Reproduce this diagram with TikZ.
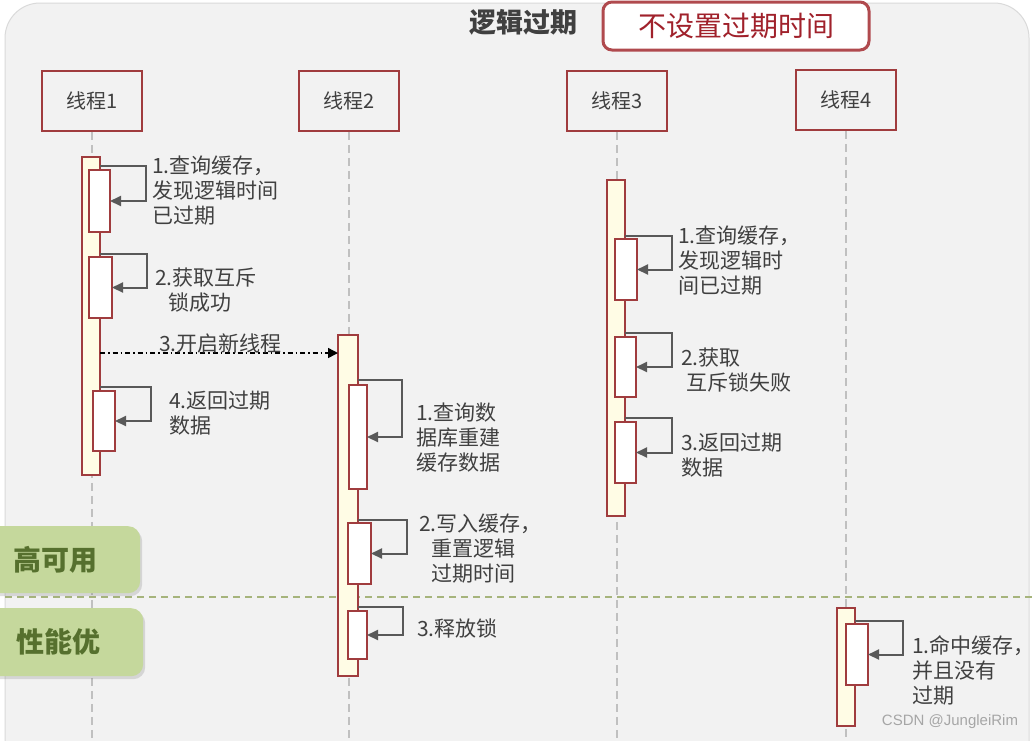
\documentclass[tikz,border=0pt]{standalone}
\usepackage{fontspec}
\setmainfont{Noto Sans CJK SC}
\newfontfamily\wmfont{Liberation Sans}
\usetikzlibrary{arrows.meta,shadows}
\definecolor{bg}{HTML}{F2F2F2}
\definecolor{panelline}{HTML}{DADADA}
\definecolor{dred}{HTML}{A03C3E}
\definecolor{barfill}{HTML}{FFFCE5}
\definecolor{txt}{HTML}{404040}
\definecolor{arr}{HTML}{595959}
\definecolor{tred}{HTML}{B04A4E}
\definecolor{ttxt}{HTML}{A0212B}
\definecolor{tabg}{HTML}{C5D89C}
\definecolor{tabt}{HTML}{56702E}
\definecolor{gdash}{HTML}{A6B47C}
\definecolor{life}{HTML}{C0C0C0}
\definecolor{wm}{HTML}{A6A6A6}
\begin{document}
\begin{tikzpicture}[x=1pt,y=-1pt,
  thr/.style={draw=dred,line width=1.5pt,fill=bg,minimum width=100pt,minimum height=60pt,inner sep=0pt,text=txt,font=\fontsize{20}{24}\selectfont},
  actbar/.style={draw=dred,line width=1.5pt,fill=barfill,anchor=north west,inner sep=0pt,outer sep=0pt,minimum width=18pt},
  inbox/.style={draw=dred,line width=1.5pt,fill=white,anchor=north west,inner sep=0pt,outer sep=0pt},
  selfarr/.style={draw=arr,line width=2pt,-{Triangle[length=11pt,width=10pt]}},
  lbl/.style={anchor=base west,align=left,inner sep=0pt,text=txt,font=\fontsize{21}{25}\selectfont},
  lifeline/.style={draw=life,line width=1.5pt,dash pattern=on 8pt off 5pt},
  tab/.style={fill=tabg,rounded corners=12pt,anchor=north west,minimum width=170pt,inner sep=0pt,text=tabt,font=\bfseries\fontsize{28}{32}\selectfont,drop shadow={shadow xshift=2pt,shadow yshift=-3pt,opacity=0.25}}
]
\useasboundingbox (0,0) rectangle (1033,740);
\fill[white] (0,0) rectangle (1033,740);
% panel
\draw[fill=bg,draw=panelline,line width=1pt,rounded corners=35pt] (5,780) -- (5,3) -- (1029,3) -- (1029,780);
% title
\node[text=txt,font=\bfseries\fontsize{27}{30}\selectfont,inner sep=0pt] (title) at (523,22) {逻辑过期};
\node[draw=tred,line width=3pt,fill=white,rounded corners=9pt,minimum width=266pt,minimum height=48pt,inner sep=0pt,text=ttxt,font=\fontsize{28}{32}\selectfont] (nott) at (736,26) {不设置过期时间};
% bottom reference
\coordinate (bot) at (0,740);
% green divider
\coordinate (dl) at (5,597);
\coordinate (dr) at (1033,597);
\draw[gdash,line width=2pt,dash pattern=on 7pt off 5pt] (dl) -- (dr);
% thread headers
\node[thr] (t1) at (92,101) {线程1};
\node[thr] (t2) at (349,101) {线程2};
\node[thr] (t3) at (617,101) {线程3};
\node[thr] (t4) at (846,100) {线程4};
\foreach \t in {t1,t2,t3,t4} \draw[lifeline] (\t.south) -- (\t.south |- bot);
% thread 1
\node[actbar,minimum height=318pt] (bar1) at (82,157) {};
\node[inbox,minimum width=21pt,minimum height=62pt] (b11) at (89,170) {};
\node[inbox,minimum width=23pt,minimum height=61pt] (b12) at (89,257) {};
\node[inbox,minimum width=22pt,minimum height=60pt] (b13) at (93,391) {};
\draw[selfarr] ([yshift=4pt]b11.north -| bar1.east) -- ++(46,0) |- (b11.east);
\draw[selfarr] ([yshift=3pt]b12.north -| bar1.east) -- ++(47,0) |- (b12.east);
\draw[selfarr] ([yshift=4pt]b13.north -| bar1.east) -- ++(51,0) |- (b13.east);
\node[lbl] (l11) at (152,223) {1.查询缓存，\\发现逻辑时间\\已过期};
\node[lbl] (l12) at (155,310) {2.获取互斥\\\hspace*{13pt}锁成功};
\node[lbl] (l13) at (169,433) {4.返回过期\\数据};
% thread 2
\node[actbar,minimum height=341pt,minimum width=20pt] (bar2) at (338,335) {};
\node[inbox,minimum width=18pt,minimum height=104pt] (b21) at (349,385) {};
\node[inbox,minimum width=23pt,minimum height=61pt] (b22) at (348,523) {};
\node[inbox,minimum width=19pt,minimum height=48pt] (b23) at (348,611) {};
\draw[selfarr] ([yshift=5pt]b21.north -| bar2.east) -- ++(44,0) |- (b21.east);
\draw[selfarr] ([yshift=3pt]b22.north -| bar2.east) -- ++(49,0) |- (b22.east);
\draw[selfarr] ([yshift=4pt]b23.north -| bar2.east) -- ++(45,0) |- (b23.east);
\node[lbl] (l21) at (416,470) {1.查询数\\据库重建\\缓存数据};
\node[lbl] (l22) at (419,581) {2.写入缓存，\\\hspace*{12pt}重置逻辑\\\hspace*{12pt}过期时间};
\node[lbl] (l23) at (417,636) {3.释放锁};
% new thread message
\coordinate (m1) at (bar1.east |- 0,353);
\draw[black,line width=1.5pt,dash pattern=on 5pt off 3pt on 1.5pt off 3pt,-{Triangle[length=10pt,width=10pt]}] (m1) -- (m1 -| bar2.west);
\node[lbl] (l14) at (159,351) {3.开启新线程};
% thread 3
\node[actbar,minimum height=336pt] (bar3) at (607,180) {};
\node[inbox,minimum width=22pt,minimum height=61pt] (b31) at (615,239) {};
\node[inbox,minimum width=21pt,minimum height=60pt] (b32) at (615,337) {};
\node[inbox,minimum width=21pt,minimum height=61pt] (b33) at (615,422) {};
\draw[selfarr] ([yshift=3pt]b31.north -| bar3.east) -- ++(47,0) |- (b31.east);
\draw[selfarr] ([yshift=4pt]b32.north -| bar3.east) -- ++(47,0) |- (b32.east);
\draw[selfarr] ([yshift=4pt]b33.north -| bar3.east) -- ++(47,0) |- (b33.east);
\node[lbl] (l31) at (678,293) {1.查询缓存，\\发现逻辑时\\间已过期};
\node[lbl] (l32) at (681,390) {2.获取\\\hspace*{5pt}互斥锁失败};
\node[lbl] (l33) at (681,475) {3.返回过期\\数据};
% thread 4
\node[actbar,minimum height=118pt] (bar4) at (837,608) {};
\node[inbox,minimum width=22pt,minimum height=61pt] (b41) at (846,624) {};
\draw[selfarr] ([yshift=3pt]b41.north -| bar4.east) -- ++(48,0) |- (b41.east);
\node[lbl] (l41) at (912,703) {1.命中缓存，\\并且没有\\过期};
% tabs
\node[tab,minimum height=67pt] (tab1) at (-30,526) {高可用};
\node[tab,minimum height=68pt] (tab2) at (-27,608) {性能优};
% watermark
\node[text=wm,font=\wmfont\fontsize{15}{18}\selectfont,inner sep=0pt] (wmk) at (950,722) {CSDN @JungleiRim};
\end{tikzpicture}
\end{document}
